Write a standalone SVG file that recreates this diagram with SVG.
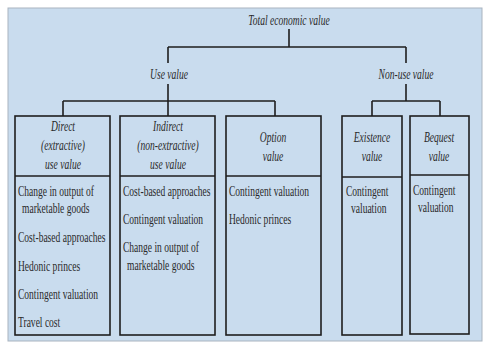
<svg xmlns="http://www.w3.org/2000/svg" width="488" height="350" viewBox="0 0 488 350">
<style>
.hd{font-family:"Liberation Serif",serif;font-style:italic;font-size:14.5px;fill:#2a2a2a;text-anchor:middle}
.bd{font-family:"Liberation Serif",serif;font-size:14px;fill:#2a2a2a}
.bx{fill:none;stroke:#1e1e1e;stroke-width:1.6}
.ln{fill:none;stroke:#1e1e1e;stroke-width:1.6}
</style>
<rect x="0" y="0" width="488" height="350" fill="#ffffff"/>
<rect x="8" y="8" width="474" height="333" fill="#c9dcee" stroke="#a9b4bf" stroke-width="1"/>
<g id="connectors">
<path class="ln" d="M289 29V47M168 47H406M168 47V63M406 47V63"/>
<path class="ln" d="M168 84V116M63 101H275M63 101V116M275 101V116"/>
<path class="ln" d="M406 84V101M372 101H440M372 101V116M440 101V116"/>
</g>
<g id="total"><text class="hd" transform="translate(289,25) scale(0.66,1)">Total economic value</text></g>
<g id="use"><text class="hd" transform="translate(169,79) scale(0.66,1)">Use value</text></g>
<g id="nonuse"><text class="hd" transform="translate(406,79) scale(0.66,1)">Non-use value</text></g>
<g id="direct">
<rect class="bx" x="15" y="116" width="95" height="219"/>
<path class="ln" d="M15 176H110"/>
<text class="hd" transform="translate(63,131) scale(0.66,1)">Direct</text>
<text class="hd" transform="translate(63,150) scale(0.66,1)">(extractive)</text>
<text class="hd" transform="translate(63,169) scale(0.66,1)">use value</text>
<text class="bd" transform="translate(18,196) scale(0.68,1)">Change in output of</text>
<text class="bd" transform="translate(22,213) scale(0.68,1)">marketable goods</text>
<text class="bd" transform="translate(18,242) scale(0.68,1)">Cost-based approaches</text>
<text class="bd" transform="translate(18,271) scale(0.68,1)">Hedonic princes</text>
<text class="bd" transform="translate(18,299) scale(0.68,1)">Contingent valuation</text>
<text class="bd" transform="translate(18,327) scale(0.68,1)">Travel cost</text>
</g>
<g id="indirect">
<rect class="bx" x="120" y="116" width="95" height="219"/>
<path class="ln" d="M120 176H215"/>
<text class="hd" transform="translate(168,131) scale(0.66,1)">Indirect</text>
<text class="hd" transform="translate(168,150) scale(0.66,1)">(non-extractive)</text>
<text class="hd" transform="translate(168,169) scale(0.66,1)">use value</text>
<text class="bd" transform="translate(123,196) scale(0.68,1)">Cost-based approaches</text>
<text class="bd" transform="translate(123,224) scale(0.68,1)">Contingent valuation</text>
<text class="bd" transform="translate(123,252) scale(0.68,1)">Change in output of</text>
<text class="bd" transform="translate(127,270) scale(0.68,1)">marketable goods</text>
</g>
<g id="option">
<rect class="bx" x="226" y="116" width="95" height="219"/>
<path class="ln" d="M226 176H321"/>
<text class="hd" transform="translate(273,142) scale(0.66,1)">Option</text>
<text class="hd" transform="translate(273,161) scale(0.66,1)">value</text>
<text class="bd" transform="translate(229,196) scale(0.68,1)">Contingent valuation</text>
<text class="bd" transform="translate(229,224) scale(0.68,1)">Hedonic princes</text>
</g>
<g id="existence">
<rect class="bx" x="342" y="116" width="60" height="219"/>
<path class="ln" d="M342 177H402"/>
<text class="hd" transform="translate(372,142) scale(0.66,1)">Existence</text>
<text class="hd" transform="translate(372,161) scale(0.66,1)">value</text>
<text class="bd" transform="translate(346,196) scale(0.68,1)">Contingent</text>
<text class="bd" transform="translate(351,213) scale(0.68,1)">valuation</text>
</g>
<g id="bequest">
<rect class="bx" x="410" y="116" width="59" height="218"/>
<path class="ln" d="M410 175H469"/>
<text class="hd" transform="translate(439,142) scale(0.66,1)">Bequest</text>
<text class="hd" transform="translate(439,161) scale(0.66,1)">value</text>
<text class="bd" transform="translate(413,195) scale(0.68,1)">Contingent</text>
<text class="bd" transform="translate(418,212) scale(0.68,1)">valuation</text>
</g>
</svg>
